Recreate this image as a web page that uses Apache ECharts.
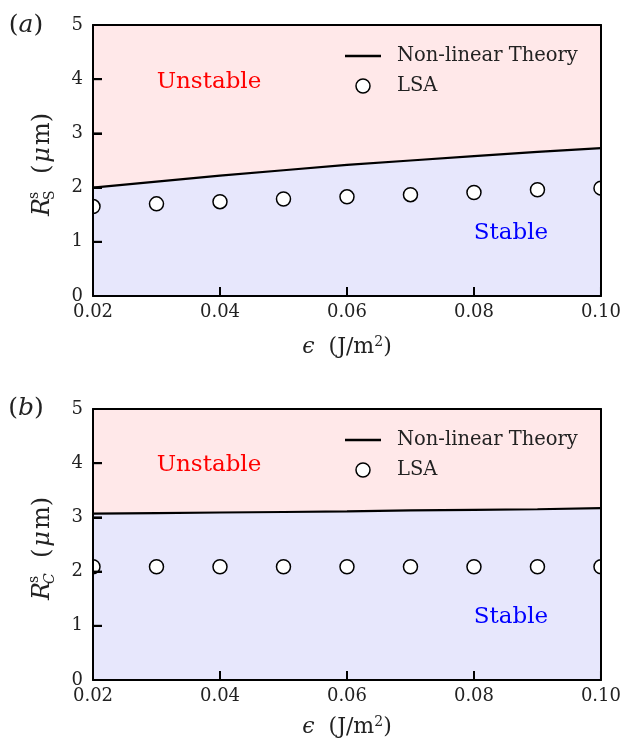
<!DOCTYPE html>
<html>
<head>
<meta charset="utf-8">
<script src="https://cdn.jsdelivr.net/npm/echarts@6/dist/echarts.min.js"></script>
<style>html,body{margin:0;padding:0;background:#fff}#c{width:624px;height:749px}</style>
</head>
<body>
<div id="c"></div>
<script>
// ---- data ----
const eps = [0.02, 0.03, 0.04, 0.05, 0.06, 0.07, 0.08, 0.09, 0.10];
const theoryS = [2.00, 2.11, 2.22, 2.32, 2.42, 2.50, 2.58, 2.66, 2.73];
const lsaS = [1.65, 1.70, 1.74, 1.79, 1.83, 1.87, 1.91, 1.96, 1.99];
const theoryC = [3.07, 3.08, 3.09, 3.10, 3.11, 3.13, 3.14, 3.15, 3.17];
const lsaC = [2.09, 2.09, 2.09, 2.09, 2.09, 2.09, 2.09, 2.09, 2.09];
const xTicks = [0.02, 0.04, 0.06, 0.08, 0.10];
const yTicks = [0, 1, 2, 3, 4, 5];
const seriesNames = ['Non-linear Theory', 'LSA'];

const FONT = 'DejaVu Serif';
const PINK = '#ffe8e9';
const BLUE = '#e7e7fc';
const TICK_LEN = 9;
const grids = [
  {left: 93, top: 25, width: 511, height: 271},
  {left: 93, top: 409, width: 511, height: 271}
];

const chart = echarts.init(document.getElementById('c'), null, {renderer: 'canvas'});

function mainX(i) {
  return {
    type: 'value', min: xTicks[0], max: xTicks[xTicks.length - 1], interval: 0.02,
    position: 'bottom', z: 10,
    axisLine: {show: true, onZero: false, lineStyle: {color: '#000', width: 2}},
    axisTick: {show: true, inside: true, length: TICK_LEN, lineStyle: {color: '#000', width: 2}},
    axisLabel: {fontFamily: FONT, fontSize: 18, color: '#222', margin: 7, formatter: v => v.toFixed(2)},
    splitLine: {show: false},
    name: '{e|ϵ}  (J/m{sup|2})', nameLocation: 'middle', nameGap: i === 0 ? 51 : 47,
    nameTextStyle: {fontFamily: FONT, fontSize: 22, color: '#222', verticalAlign: 'middle',
      rich: {e: {fontFamily: FONT, fontSize: 22, fontStyle: 'italic', color: '#222'},
             sup: {fontFamily: FONT, fontSize: 14, color: '#222', verticalAlign: 'bottom', padding: [0, 0, 10, 0]}}}
  };
}
function frameX(i) {
  return {type: 'value', min: xTicks[0], max: xTicks[xTicks.length - 1], position: 'top', z: 10,
    axisLine: {show: true, onZero: false, lineStyle: {color: '#000', width: 2}},
    axisTick: {show: false}, axisLabel: {show: false}, splitLine: {show: false}};
}
function mainY(i) {
  return {
    type: 'value', min: yTicks[0], max: yTicks[yTicks.length - 1], interval: 1, position: 'left', z: 10,
    axisLine: {show: true, onZero: false, lineStyle: {color: '#000', width: 2}},
    axisTick: {show: true, inside: true, length: TICK_LEN, lineStyle: {color: '#000', width: 2}},
    axisLabel: {fontFamily: FONT, fontSize: 18, color: '#222', margin: 10},
    splitLine: {show: false}
  };
}
function frameY(i) {
  return {type: 'value', min: yTicks[0], max: yTicks[yTicks.length - 1], position: 'right', z: 10,
    axisLine: {show: true, onZero: false, lineStyle: {color: '#000', width: 2}},
    axisTick: {show: false}, axisLabel: {show: false}, splitLine: {show: false}};
}

function theorySeries(i, vals) {
  return {
    type: 'line', name: seriesNames[0], xAxisIndex: 2 * i, yAxisIndex: 2 * i, z: 1,
    data: eps.map((e, k) => [e, vals[k]]), symbol: 'none', smooth: false, silent: true,
    lineStyle: {color: '#000', width: 2.2},
    itemStyle: {color: '#000'},
    areaStyle: {color: BLUE, opacity: 1, origin: 'start'}
  };
}
function lsaSeries(i, vals) {
  return {
    type: 'custom', name: seriesNames[1], xAxisIndex: 2 * i, yAxisIndex: 2 * i, z: 2, clip: true, silent: true,
    data: eps.map((e, k) => [e, vals[k]]), encode: {x: 0, y: 1},
    itemStyle: {color: '#fff', borderColor: '#000', borderWidth: 1.5},
    renderItem: function (params, api) {
      const p = api.coord([api.value(0), api.value(1)]);
      return {type: 'circle', shape: {cx: p[0], cy: p[1], r: 7},
        style: {fill: '#fff', stroke: '#000', lineWidth: 1.5}};
    }
  };
}
// inward axis ticks, positioned through the axis scales
function tickSeries(i, dir) {
  const data = dir === 'y' ? yTicks.map(v => [xTicks[0], v]) : xTicks.map(v => [v, yTicks[0]]);
  return {
    type: 'custom', name: 'ticks-' + dir + i, xAxisIndex: 2 * i, yAxisIndex: 2 * i, z: 3, clip: false, silent: true,
    data: data, encode: {x: 0, y: 1},
    renderItem: function (params, api) {
      const p = api.coord([api.value(0), api.value(1)]);
      const shape = dir === 'y'
        ? {x: p[0], y: p[1] - 1, width: TICK_LEN, height: 2}
        : {x: p[0] - 1, y: p[1] - TICK_LEN, width: 2, height: TICK_LEN};
      return {type: 'rect', shape: shape, style: {fill: '#000'}};
    }
  };
}
function legend(top) {
  return {
    left: 345, top: top, orient: 'vertical', padding: 0, itemGap: 10, itemWidth: 36, itemHeight: 14,
    selectedMode: false,
    textStyle: {fontFamily: FONT, fontSize: 19.5, color: '#222', padding: [0, 0, 0, 11], lineHeight: 14},
    data: [
      {name: seriesNames[0], icon: 'path://M0,5.7 L36,5.7 L36,8.3 L0,8.3 Z', itemStyle: {color: '#000'}},
      {name: seriesNames[1], icon: 'circle', itemStyle: {color: '#fff', borderColor: '#000', borderWidth: 1.5}}
    ]
  };
}

function yName(cx, cy, subText, subItalic) {
  return {
    type: 'group', x: cx, y: cy, rotation: Math.PI / 2, silent: true,
    children: [
      {type: 'text', x: -52, y: 0, style: {text: 'R', font: 'italic 24px "DejaVu Serif"', fill: '#222', verticalAlign: 'middle', align: 'left'}},
      {type: 'text', x: -35, y: -9, style: {text: 's', font: '14px "DejaVu Serif"', fill: '#222', verticalAlign: 'middle', align: 'left'}},
      {type: 'text', x: -36, y: 7, style: {text: subText, font: (subItalic ? 'italic ' : '') + '14px "DejaVu Serif"', fill: '#222', verticalAlign: 'middle', align: 'left'}},
      {type: 'text', x: -10, y: 0, style: {text: '({m|μ}m)', font: '24px "DejaVu Serif"', fill: '#222', verticalAlign: 'middle', align: 'left',
        rich: {m: {font: 'italic 24px "DejaVu Serif"', fill: '#222', padding: [0, 2, 0, 2]}}}}
    ]
  };
}
function panel(cx, cy, letter) {
  return {type: 'text', x: cx, y: cy, silent: true,
    style: {text: '({i|' + letter + '})', font: '25px "DejaVu Serif"', fill: '#222', align: 'center', verticalAlign: 'middle',
      rich: {i: {font: 'italic 25px "DejaVu Serif"', fill: '#222'}}}};
}
function region(cx, cy, txt, col) {
  return {type: 'text', x: cx, y: cy, silent: true, z: 10,
    style: {text: txt, font: '23px "DejaVu Serif"', fill: col, align: 'center', verticalAlign: 'middle'}};
}

chart.setOption({
  backgroundColor: '#fff',
  animation: false,
  grid: grids.map(g => Object.assign({show: true, backgroundColor: PINK, borderWidth: 0, z: 0}, g)),
  xAxis: [mainX(0), frameX(0), mainX(1), frameX(1)].map((a, k) => Object.assign(a, {gridIndex: k < 2 ? 0 : 1})),
  yAxis: [mainY(0), frameY(0), mainY(1), frameY(1)].map((a, k) => Object.assign(a, {gridIndex: k < 2 ? 0 : 1})),
  legend: [legend(46), legend(430)],
  series: [
    theorySeries(0, theoryS), lsaSeries(0, lsaS), theorySeries(1, theoryC), lsaSeries(1, lsaC),
    tickSeries(0, 'x'), tickSeries(0, 'y'), tickSeries(1, 'x'), tickSeries(1, 'y')
  ],
  graphic: [
    panel(26, 25, 'a'), panel(26, 408, 'b'),
    yName(43, 164, 'S', false), yName(43, 548, 'C', true),
    region(209, 82, 'Unstable', '#ff0000'), region(511, 233, 'Stable', '#0000ff'),
    region(209, 465, 'Unstable', '#ff0000'), region(511, 617, 'Stable', '#0000ff')
  ]
});
</script>
</body>
</html>
